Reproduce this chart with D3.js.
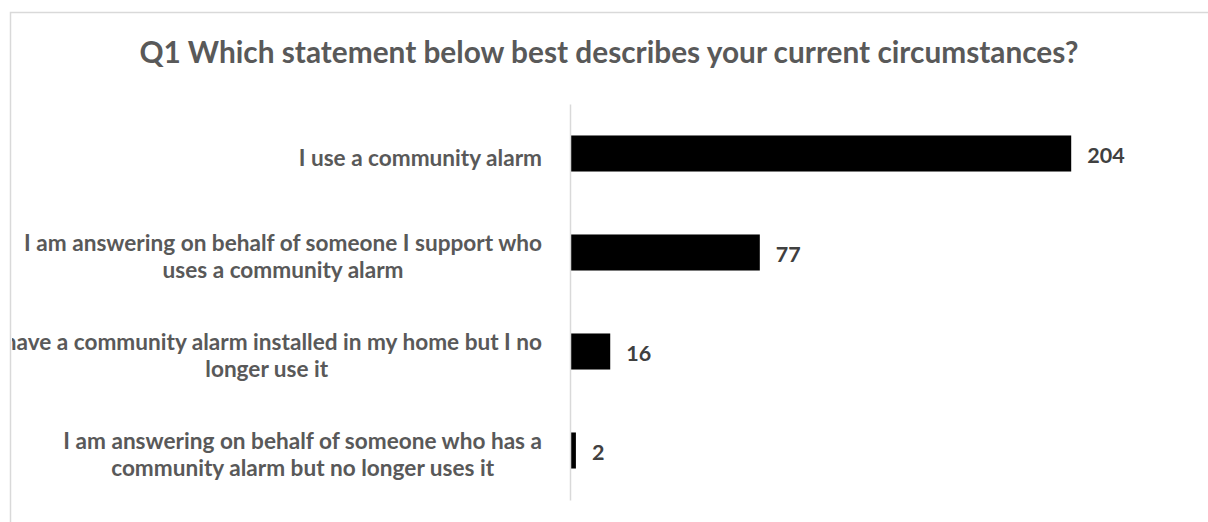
<!DOCTYPE html>
<html>
<head>
<meta charset="utf-8">
<script src="https://cdn.jsdelivr.net/npm/d3@7"></script>
<style>
  html, body { margin: 0; padding: 0; background: #ffffff; }
  svg { display: block; }
  text { font-family: Lato, "Open Sans", "Liberation Sans", sans-serif; font-weight: 700; }
</style>
</head>
<body>
<svg id="chart" width="1208" height="522"></svg>
<script>
// Survey responses, question 1
const title = "Q1 Which statement below best describes your current circumstances?";
const categories = [
  "I use a community alarm",
  "I am answering on behalf of someone I support who uses a community alarm",
  "I have a community alarm installed in my home but I no longer use it",
  "I am answering on behalf of someone who has a community alarm but no longer uses it"
];
const counts = [204, 77, 16, 2];
const xDomain = [0, 250];

const svg = d3.select("#chart");
const W = 1208, H = 522;

const TEXT_GREY = "#595959";
const VALUE_GREY = "#404040";
const LINE_GREY = "#d9d9d9";

// Chart frame (runs past the right and bottom edges of the view)
svg.append("rect")
  .attr("x", 10.5).attr("y", 12.5)
  .attr("width", W + 40).attr("height", H + 40)
  .attr("fill", "#ffffff")
  .attr("stroke", LINE_GREY)
  .attr("stroke-width", 1.5);

const clip = svg.append("defs").append("clipPath").attr("id", "frame");
clip.append("rect").attr("x", 12).attr("y", 13).attr("width", W).attr("height", H);

const g = svg.append("g").attr("clip-path", "url(#frame)");

// Title
g.append("text")
  .attr("x", 609).attr("y", 63)
  .attr("text-anchor", "middle")
  .attr("fill", TEXT_GREY)
  .style("font-size", "29.8px")
  .text(title);

// Scales
const x = d3.scaleLinear().domain(xDomain).range([571, 1184]);
const y = d3.scaleBand().domain(categories).range([104, 500])
  .paddingInner(0.636).paddingOuter(0.318);

// Bars
g.selectAll("rect.bar")
  .data(categories)
  .join("rect")
  .attr("class", "bar")
  .attr("x", x(0))
  .attr("y", d => y(d))
  .attr("width", (d, i) => x(counts[i]) - x(0))
  .attr("height", y.bandwidth())
  .attr("fill", "#000000");

// Category axis line
const axis = d3.axisLeft(y).tickSize(0).tickFormat("");
const axisG = g.append("g")
  .attr("transform", `translate(${x(0) - 1},0)`)
  .call(axis);
axisG.select(".domain").attr("stroke", LINE_GREY).attr("stroke-width", 1.5);

// Value labels
g.selectAll("text.value")
  .data(categories)
  .join("text")
  .attr("class", "value")
  .attr("x", (d, i) => x(counts[i]) + 16)
  .attr("y", d => y(d) + y.bandwidth() / 2 + 9)
  .attr("fill", VALUE_GREY)
  .style("font-size", "21.5px")
  .text((d, i) => counts[i]);

// Wrapped category labels: lines centred on each other, widest line ends near the axis
const LABEL_SIZE = 22.6;
const WRAP = 560;
const LINE_H = 27;
const RIGHT_EDGE = 542;

const measure = g.append("text").style("font-size", LABEL_SIZE + "px").attr("visibility", "hidden");
function widthOf(s) { measure.text(s); return measure.node().getComputedTextLength(); }
function wrap(s) {
  const words = s.split(" ");
  const lines = [];
  let cur = "";
  words.forEach(w => {
    const t = cur ? cur + " " + w : w;
    if (cur && widthOf(t) > WRAP) { lines.push(cur); cur = w; } else { cur = t; }
  });
  if (cur) lines.push(cur);
  return lines;
}

categories.forEach(c => {
  const lines = wrap(c);
  const maxW = d3.max(lines, widthOf);
  const cx = RIGHT_EDGE - maxW / 2;
  const cy = y(c) + y.bandwidth() / 2 + 5;
  const t = g.append("text")
    .attr("text-anchor", "middle")
    .attr("fill", TEXT_GREY)
    .style("font-size", LABEL_SIZE + "px");
  lines.forEach((ln, i) => {
    t.append("tspan")
      .attr("x", cx)
      .attr("y", cy + (i - (lines.length - 1) / 2) * LINE_H + 7)
      .text(ln);
  });
});
measure.remove();
</script>
</body>
</html>
